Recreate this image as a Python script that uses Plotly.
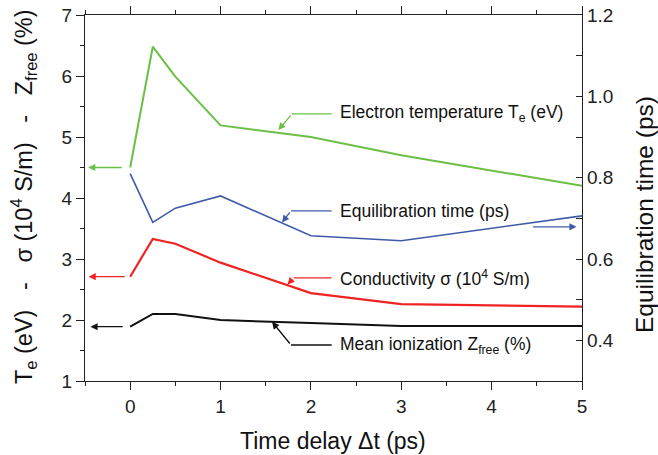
import plotly.graph_objects as go

# ---- data ----
t = [0, 0.25, 0.5, 1, 2, 3, 5]
te = [4.5, 6.48, 5.99, 5.19, 5.0, 4.7, 4.2]          # Electron temperature (eV)
tau = [0.81, 0.69, 0.725, 0.755, 0.657, 0.645, 0.706]  # Equilibration time (ps), right axis
sigma = [2.71, 3.33, 3.25, 2.94, 2.44, 2.26, 2.22]   # Conductivity (1e4 S/m)
zfree = [1.89, 2.10, 2.10, 2.0, 1.95, 1.90, 1.90]    # Mean ionization (%)

x_ticks = [0, 1, 2, 3, 4, 5]
y_ticks = [1, 2, 3, 4, 5, 6, 7]
y2_ticks = [0.4, 0.6, 0.8, 1.0, 1.2]

GREEN = "#6CBF45"
BLUE = "#3F5BA8"
RED = "#EE2424"
BLACK = "#111111"
FONT = "Liberation Sans, Arial, sans-serif"

W, H = 658, 455
ml, mr, mt, mb = 85, 76, 15, 74
pw, ph = W - ml - mr, H - mt - mb


def px_to_paper_x(px):
    return (px - ml) / pw


def px_to_paper_y(py):
    return (H - mb - py) / ph


fig = go.Figure()
fig.add_trace(go.Scatter(x=t, y=te, mode="lines", line=dict(color=GREEN, width=2), showlegend=False))
fig.add_trace(go.Scatter(x=t, y=sigma, mode="lines", line=dict(color=RED, width=2.2), showlegend=False))
fig.add_trace(go.Scatter(x=t, y=zfree, mode="lines", line=dict(color=BLACK, width=2), showlegend=False))
fig.add_trace(go.Scatter(x=t, y=tau, mode="lines", line=dict(color=BLUE, width=1.6), yaxis="y2", showlegend=False))

annotations = []
shapes = []


def arrow(x_head, y_head, x_tail, y_tail, color, yref="y"):
    annotations.append(dict(x=x_head, y=y_head, ax=x_tail, ay=y_tail, xref="x", yref=yref,
                            axref="x", ayref=yref, text="", showarrow=True, arrowhead=2,
                            arrowsize=1.1, arrowwidth=1.3, arrowcolor=color))


# axis-pointing arrows
arrow(-0.465, te[0], -0.077, te[0], GREEN)
arrow(-0.46, sigma[0], -0.044, sigma[0], RED)
arrow(-0.44, zfree[0], -0.066, zfree[0], BLACK)
arrow(4.94, 0.679, 4.44, 0.679, BLUE, yref="y2")

# callouts: (text, y_text, x_bend, x_head, y_head, color)
callouts = [
    ("Electron temperature T<sub>e</sub> (eV)", 5.38, 1.79, 1.64, 5.115, GREEN),
    ("Equilibration time (ps)", 3.79, 1.78, 1.68, 3.60, BLUE),
    ("Conductivity σ (10<sup>4</sup> S/m)", 2.69, 1.81, 1.74, 2.58, RED),
    ("Mean ionization Z<sub>free</sub> (%)", 1.59, 1.78, 1.57, 1.97, BLACK),
]
for text, yt, xb, xh, yh, col in callouts:
    shapes.append(dict(type="line", xref="x", yref="y", x0=2.23, x1=xb, y0=yt, y1=yt,
                       line=dict(color=col, width=1.3)))
    arrow(xh, yh, xb, yt, col)
    annotations.append(dict(x=2.30, y=yt, xref="x", yref="y", text=text, showarrow=False,
                            xanchor="left", yanchor="middle",
                            font=dict(family=FONT, size=17.5, color="#111111")))

# axis titles
annotations.append(dict(x=px_to_paper_x(23), y=px_to_paper_y(197), xref="paper", yref="paper",
                        xanchor="center", yanchor="middle",
                        text="T<sub>e</sub> (eV)\u00a0\u00a0\u00a0-\u00a0\u00a0\u00a0σ (10<sup>4</sup> S/m)\u00a0\u00a0\u00a0-\u00a0\u00a0\u00a0Z<sub>free</sub> (%)",
                        textangle=-90, showarrow=False, font=dict(family=FONT, size=23.5, color="#111111")))
annotations.append(dict(x=px_to_paper_x(645), y=px_to_paper_y(215), xref="paper", yref="paper",
                        text="Equilibration time (ps)", textangle=-90, showarrow=False,
                        xanchor="center", yanchor="middle",
                        font=dict(family=FONT, size=24.5, color="#111111")))
annotations.append(dict(x=px_to_paper_x(333), y=px_to_paper_y(441), xref="paper", yref="paper",
                        text="Time delay Δt (ps)", showarrow=False,
                        xanchor="center", yanchor="middle",
                        font=dict(family=FONT, size=23, color="#111111")))

axis_common = dict(showgrid=False, zeroline=False, showline=True, linecolor="#222222", linewidth=1.3,
                   tickcolor="#222222", tickwidth=1.3, automargin=False, ticklabeloverflow="allow",
                   tickfont=dict(family=FONT, size=19, color="#222222"))

fig.update_layout(
    width=W, height=H,
    margin=dict(l=ml, r=mr, t=mt, b=mb, autoexpand=False),
    paper_bgcolor="white", plot_bgcolor="white",
    annotations=annotations, shapes=shapes,
    xaxis=dict(range=[-0.5, 5], tickvals=x_ticks, ticks="outside", ticklen=8, mirror="ticks",
               minor=dict(dtick=0.5, tick0=0, ticks="outside", ticklen=4, tickcolor="#222222", tickwidth=1.3),
               **axis_common),
    yaxis=dict(range=[1, 7], tickvals=y_ticks, ticks="outside", ticklen=8,
               minor=dict(dtick=0.5, tick0=0, ticks="outside", ticklen=4, tickcolor="#222222", tickwidth=1.3),
               **axis_common),
    yaxis2=dict(range=[0.3, 1.2], tickvals=y2_ticks, tickformat=".1f", ticks="inside", ticklen=6,
                overlaying="y", side="right",
                minor=dict(dtick=0.1, tick0=0, ticks="inside", ticklen=6, tickcolor="#222222", tickwidth=1.3),
                **axis_common),
)

fig.write_html("out.html", config={"displayModeBar": False},
               post_script="document.body.style.margin='0px';document.body.style.overflow='hidden';")
